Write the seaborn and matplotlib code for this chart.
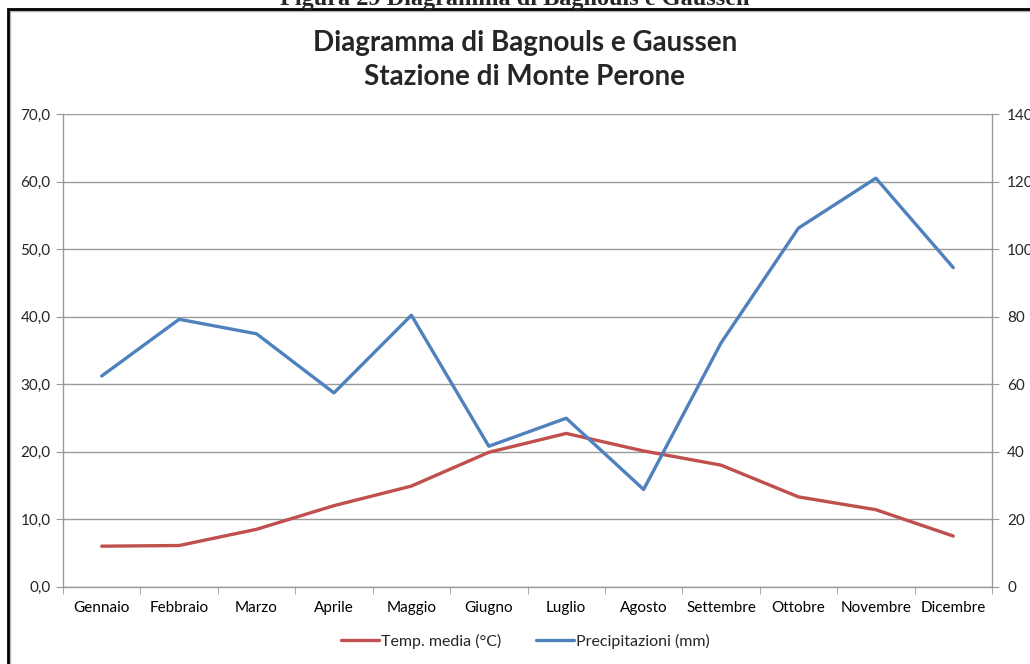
import numpy as np
import matplotlib
matplotlib.use("Agg")
import matplotlib.pyplot as plt
import seaborn as sns
from matplotlib.patches import Rectangle
from matplotlib.ticker import FuncFormatter

months = ["Gennaio", "Febbraio", "Marzo", "Aprile", "Maggio", "Giugno",
          "Luglio", "Agosto", "Settembre", "Ottobre", "Novembre", "Dicembre"]
temp = [6.0, 6.1, 8.5, 12.0, 14.9, 19.9, 22.7, 20.1, 18.0, 13.3, 11.4, 7.5]
precip = [62.4, 79.2, 74.9, 57.4, 80.4, 41.6, 49.9, 28.8, 72.2, 106.2, 121.0, 94.5]
left_ticks = [0, 10, 20, 30, 40, 50, 60, 70]
right_ticks = [0, 20, 40, 60, 80, 100, 120, 140]

sns.set_style("white")
plt.rcParams['font.family'] = ['Lato', 'DejaVu Sans']

RED = "#C0504D"
BLUE = "#4F81BD"
GRID = "#9a9a9a"

fig = plt.figure(figsize=(10.3, 6.64), dpi=100)
ax = fig.add_axes([63/1030, 1-586.7/664, (992-63)/1030, (586.7-114)/664])
ax2 = ax.twinx()

x = np.arange(len(months))
sns.lineplot(x=x, y=temp, ax=ax, color=RED, linewidth=2.4, label="Temp. media (°C)", legend=False)
sns.lineplot(x=x, y=precip, ax=ax2, color=BLUE, linewidth=2.4, label="Precipitazioni (mm)", legend=False)

ax.set_xlim(-0.5, len(months) - 0.5)
ax.set_ylim(0, 70)
ax2.set_ylim(0, 140)
ax.set_yticks(left_ticks)
ax2.set_yticks(right_ticks)
ax.yaxis.set_major_formatter(FuncFormatter(lambda v, p: f"{v:.1f}".replace(".", ",")))
ax2.yaxis.set_major_formatter(FuncFormatter(lambda v, p: f"{int(v)}"))

ax.set_xticks(x)
ax.set_xticklabels(months)
ax.tick_params(axis='x', which='major', length=0, pad=10, labelsize=11, colors='black')
ax.tick_params(axis='x', which='minor', length=5, color=GRID, direction='out', bottom=True)
ax.tick_params(axis='y', length=5, color=GRID, direction='out', left=True, labelsize=11, pad=4)
ax2.tick_params(axis='y', length=5, color=GRID, direction='out', right=True, labelsize=11, pad=6)
ax.set_xticks(list(np.arange(-0.5, 12.0, 1.0)), minor=True)

ax.grid(axis='y', color=GRID, linewidth=1.0)
ax.grid(axis='x', visible=False)
ax2.grid(False)
ax.set_axisbelow(True)
for a in (ax, ax2):
    a.spines["top"].set_visible(False)
    for s in ("left", "right", "bottom"):
        a.spines[s].set_color(GRID)
        a.spines[s].set_linewidth(1.0)
ax.spines["right"].set_visible(False)
ax2.spines["left"].set_visible(False)
ax2.spines["bottom"].set_visible(False)
ax.set_ylabel("")
ax2.set_ylabel("")
ax.set_xlabel("")

h1, l1 = ax.get_legend_handles_labels()
h2, l2 = ax2.get_legend_handles_labels()
fig.legend(h1 + h2, l1 + l2, loc='center', bbox_to_anchor=(0.51, 1-641/664), ncol=2,
           frameon=False, fontsize=11.5, handlelength=2.4, handletextpad=0.1, columnspacing=2.2)

fig.text(525/1030, 1-43/664, "Diagramma di Bagnouls e Gaussen", ha='center', va='center',
         fontsize=20, fontweight='bold')
fig.text(525/1030, 1-77/664, "Stazione di Monte Perone", ha='center', va='center',
         fontsize=20, fontweight='bold')

fig.text(515/1030, 1-5/664, "Figura 29 Diagramma di Bagnouls e Gaussen", ha='center', va='baseline',
         fontsize=17.5, fontweight='bold', family=['Liberation Serif', 'DejaVu Serif'])

fig.patches.append(Rectangle((10/1030, -0.01), 1.0, 1-11/664 + 0.01, transform=fig.transFigure,
                             fill=False, edgecolor='#b0b0b0', linewidth=1.0))
fig.patches.append(Rectangle((8/1030, -0.01), 1.0, 1-8.5/664 + 0.01, transform=fig.transFigure,
                             fill=False, edgecolor='black', linewidth=2.0))

fig.savefig("out.png", dpi=100)
